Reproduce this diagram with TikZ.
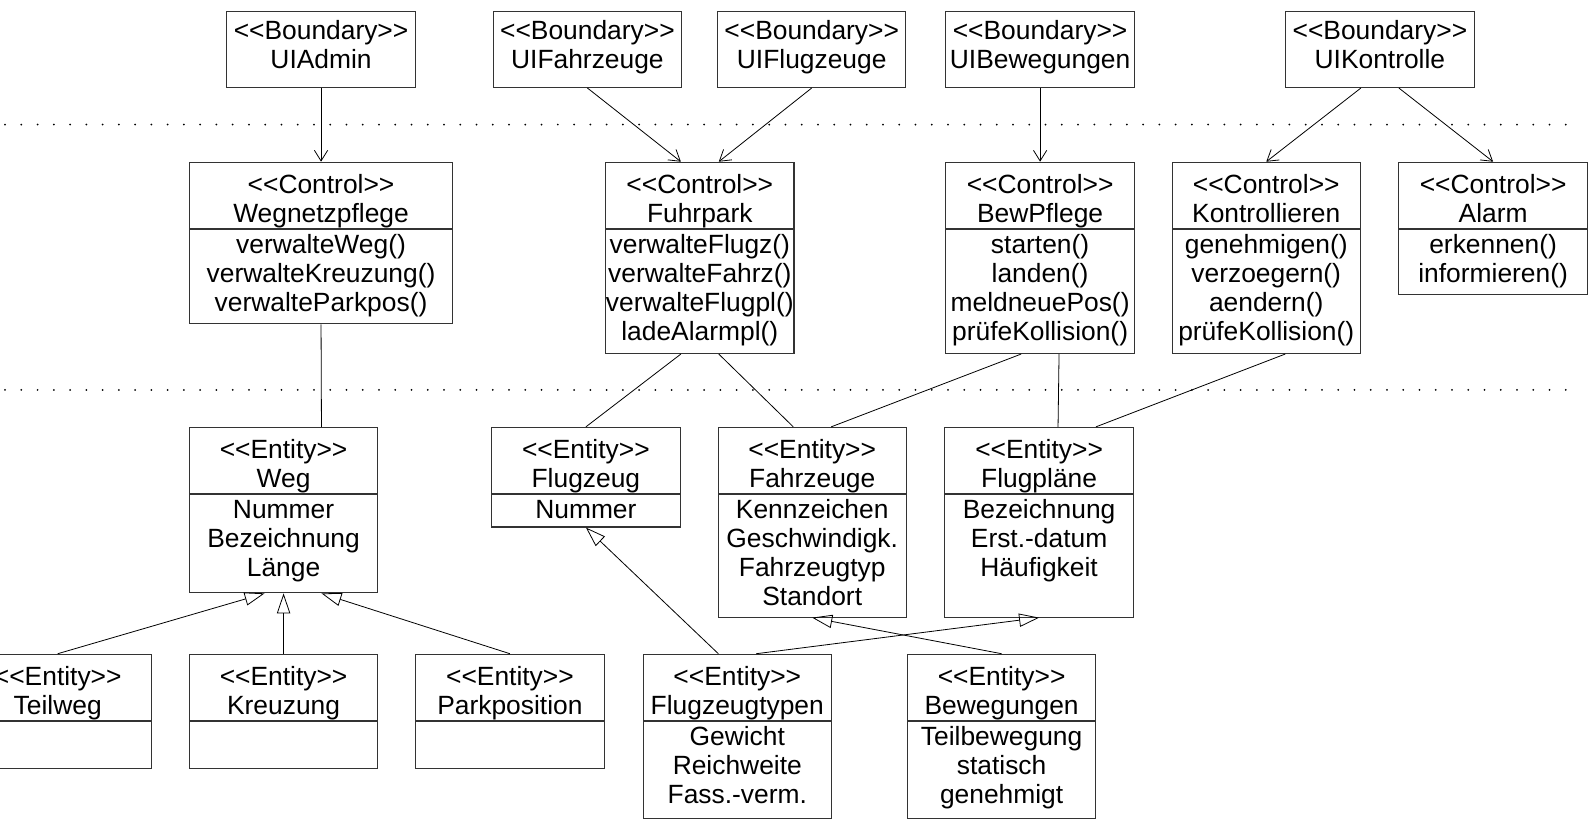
\documentclass[tikz,border=0pt]{standalone}
\usepackage{fontspec}
\setmainfont{Liberation Sans}[Ligatures=TeXOff]
\usetikzlibrary{positioning,arrows.meta,calc}
\newcommand\umlfont{\fontsize{19.8pt}{21.8pt}\selectfont}
\tikzset{
  cls/.style={draw=black!80,line width=0.8pt,inner sep=0pt,align=center,font=\umlfont,text width=141.36pt},
  head/.style={cls,text height=23.56pt,text depth=26.07pt},
  bnd/.style={cls,text height=20.75pt,text depth=36.02pt},
  body/.code={\pgfmathsetmacro\bodydp{(#1-23.5)*0.76}\pgfkeysalso{/tikz/cls,/tikz/text height=17.86pt,/tikz/text depth=\bodydp pt}},
  wide/.style={text width=197.6pt},
  nav/.style={-{Straight Barb[length=8pt,width=10pt]},line width=0.6pt},
  gen/.style={-{Triangle[open,length=15pt,width=10pt]},line width=0.6pt},
  layer/.style={line width=1.5pt,dash pattern=on 0pt off 12.2pt,line cap=round}
}
\begin{document}
\begin{tikzpicture}[x=0.76pt,y=-0.76pt]
\path[use as bounding box,fill=white] (0,0) rectangle (1568,808.6);
\draw[layer] (5,123) -- (1556,123);
\draw[layer] (5,385) -- (1556,385);

\node [bnd] (uiadmin) at (317,49) {<<Boundary>>\\UIAdmin};
\node [bnd] (uifahrzeuge) at (580,49) {<<Boundary>>\\UIFahrzeuge};
\node [bnd] (uiflugzeuge) at (801.5,49) {<<Boundary>>\\UIFlugzeuge};
\node [bnd] (uibewegungen) at (1027,49) {<<Boundary>>\\UIBewegungen};
\node [bnd] (uikontrolle) at (1362.5,49) {<<Boundary>>\\UIKontrolle};

\node [head,wide] (wegnetzpflege) at (317,192.85) {<<Control>>\\Wegnetzpflege};
\node [body=93.3,wide] (wegnetzpflegeB) [below=0pt of wegnetzpflege] {verwalteWeg()\\verwalteKreuzung()\\verwalteParkpos()};
\node [head] (fuhrpark) at (691,192.85) {<<Control>>\\Fuhrpark};
\node [body=122.5] (fuhrparkB) [below=0pt of fuhrpark] {verwalteFlugz()\\verwalteFahrz()\\verwalteFlugpl()\\ladeAlarmpl()};
\node [head] (bewpflege) at (1027,192.85) {<<Control>>\\BewPflege};
\node [body=122.5] (bewpflegeB) [below=0pt of bewpflege] {starten()\\landen()\\meldneuePos()\\prüfeKollision()};
\node [head] (kontrollieren) at (1250.3,192.85) {<<Control>>\\Kontrollieren};
\node [body=122.5] (kontrollierenB) [below=0pt of kontrollieren] {genehmigen()\\verzoegern()\\aendern()\\prüfeKollision()};
\node [head] (alarm) at (1474.3,192.85) {<<Control>>\\Alarm};
\node [body=64.5] (alarmB) [below=0pt of alarm] {erkennen()\\informieren()};

\node [head] (weg) at (280,454.65) {<<Entity>>\\Weg};
\node [body=97] (wegB) [below=0pt of weg] {Nummer\\Bezeichnung\\Länge};
\node [head] (flugzeug) at (578.5,454.65) {<<Entity>>\\Flugzeug};
\node [body=32] (flugzeugB) [below=0pt of flugzeug] {Nummer};
\node [head] (fahrzeuge) at (802,454.65) {<<Entity>>\\Fahrzeuge};
\node [body=121] (fahrzeugeB) [below=0pt of fahrzeuge] {Kennzeichen\\Geschwindigk.\\Fahrzeugtyp\\Standort};
\node [head] (flugplaene) at (1026,454.65) {<<Entity>>\\Flugpläne};
\node [body=121] (flugplaeneB) [below=0pt of flugplaene] {Bezeichnung\\Erst.-datum\\Häufigkeit};

\node [head] (teilweg) at (57,678.65) {<<Entity>>\\Teilweg};
\node [body=46] (teilwegB) [below=0pt of teilweg] {};
\node [head] (kreuzung) at (280,678.65) {<<Entity>>\\Kreuzung};
\node [body=46] (kreuzungB) [below=0pt of kreuzung] {};
\node [head] (parkposition) at (503.5,678.65) {<<Entity>>\\Parkposition};
\node [body=46] (parkpositionB) [below=0pt of parkposition] {};
\node [head] (flugzeugtypen) at (728,678.65) {<<Entity>>\\Flugzeugtypen};
\node [body=95.5] (flugzeugtypenB) [below=0pt of flugzeugtypen] {Gewicht\\Reichweite\\Fass.-verm.};
\node [head] (bewegungen) at (989,678.65) {<<Entity>>\\Bewegungen};
\node [body=95.5] (bewegungenB) [below=0pt of bewegungen] {Teilbewegung\\statisch\\genehmigt};

\draw[nav] (uiadmin.south) -- (wegnetzpflege.north);
\draw[nav] (uifahrzeuge.south) -- ($(fuhrpark.north west)!.4!(fuhrpark.north east)$);
\draw[nav] (uiflugzeuge.south) -- ($(fuhrpark.north west)!.6!(fuhrpark.north east)$);
\draw[nav] (uibewegungen.south) -- (bewpflege.north);
\draw[nav] ($(uikontrolle.south west)!.4!(uikontrolle.south east)$) -- (kontrollieren.north);
\draw[nav] ($(uikontrolle.south west)!.6!(uikontrolle.south east)$) -- (alarm.north);

\draw[line width=0.6pt] (wegnetzpflegeB.south) -- ($(weg.north west)!.7!(weg.north east)$);
\draw[line width=0.6pt] ($(fuhrparkB.south west)!.4!(fuhrparkB.south east)$) -- (flugzeug.north);
\draw[line width=0.6pt] ($(fuhrparkB.south west)!.6!(fuhrparkB.south east)$) -- ($(fahrzeuge.north west)!.4!(fahrzeuge.north east)$);
\draw[line width=0.6pt] ($(bewpflegeB.south west)!.4!(bewpflegeB.south east)$) -- ($(fahrzeuge.north west)!.6!(fahrzeuge.north east)$);
\draw[line width=0.6pt] ($(bewpflegeB.south west)!.6!(bewpflegeB.south east)$) -- ($(flugplaene.north west)!.6!(flugplaene.north east)$);
\draw[line width=0.6pt] ($(kontrollierenB.south west)!.6!(kontrollierenB.south east)$) -- ($(flugplaene.north west)!.8!(flugplaene.north east)$);

\draw[gen] (teilweg.north) -- ($(wegB.south west)!.4!(wegB.south east)$);
\draw[gen] (kreuzung.north) -- (wegB.south);
\draw[gen] (parkposition.north) -- ($(wegB.south west)!.7!(wegB.south east)$);
\draw[gen] ($(flugzeugtypen.north west)!.4!(flugzeugtypen.north east)$) -- (flugzeugB.south);
\draw[gen] ($(flugzeugtypen.north west)!.6!(flugzeugtypen.north east)$) -- (flugplaeneB.south);
\draw[gen] (bewegungen.north) -- (fahrzeugeB.south);
\end{tikzpicture}
\end{document}
